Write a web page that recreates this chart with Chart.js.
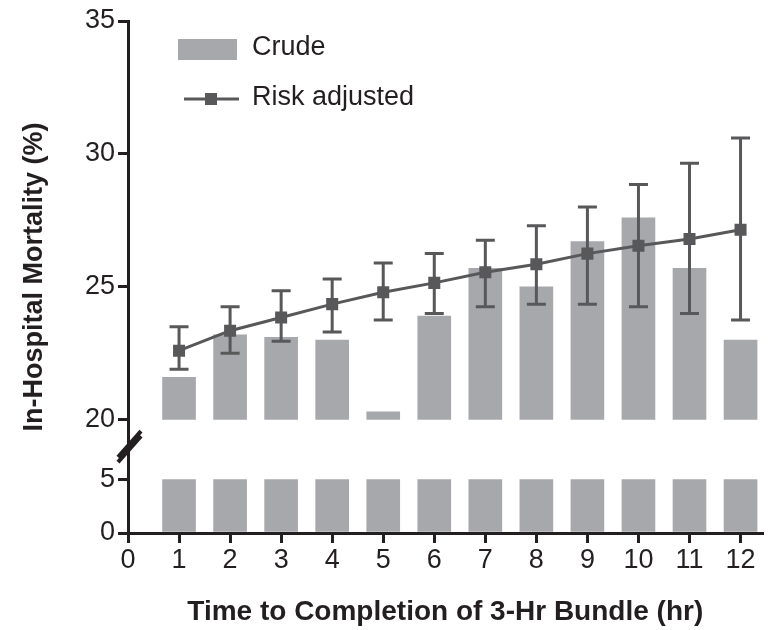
<!DOCTYPE html>
<html><head><meta charset="utf-8">
<script src="https://cdn.jsdelivr.net/npm/chart.js@4.4.1/dist/chart.umd.min.js"></script>
<style>html,body{margin:0;padding:0;background:#fff}#wrap{position:relative;width:771px;height:630px}</style>
</head><body><div id="wrap"><canvas id="c" width="771" height="630"></canvas></div>
<script>
// ---- data ----
const hours = [1, 2, 3, 4, 5, 6, 7, 8, 9, 10, 11, 12];
const crude = [21.6, 23.2, 23.1, 23.0, 20.3, 23.9, 25.7, 25.0, 26.7, 27.6, 25.7, 23.0];
const riskAdjusted = [22.6, 23.35, 23.85, 24.35, 24.8, 25.15, 25.55, 25.85, 26.25, 26.55, 26.8, 27.15];
const riskLower = [21.9, 22.5, 22.95, 23.3, 23.75, 24.0, 24.25, 24.35, 24.35, 24.25, 24.0, 23.75];
const riskUpper = [23.5, 24.25, 24.85, 25.3, 25.9, 26.25, 26.75, 27.3, 28.0, 28.85, 29.65, 30.6];
const xTicks = [0, 1, 2, 3, 4, 5, 6, 7, 8, 9, 10, 11, 12];
const yUpperTicks = [20, 25, 30, 35];
const yLowerTicks = [0, 5];
const breakLow = 5;
const breakHigh = 20;
const legendLabels = ['Crude', 'Risk adjusted'];
const xTitle = 'Time to Completion of 3-Hr Bundle (hr)';
const yTitle = 'In-Hospital Mortality (%)';

// ---- styles ----
const AXIS = '#231f20', BAR = '#a7a8ab', LINE = '#58585a';
const FONT = "'Liberation Sans', Arial, sans-serif";
Chart.defaults.font.family = FONT;
Chart.defaults.color = AXIS;

const errorBars = {
  id: 'errorBars',
  afterDatasetsDraw(chart) {
    const { ctx, scales: { x, yHigh } } = chart;
    ctx.save();
    ctx.strokeStyle = LINE; ctx.lineWidth = 3;
    hours.forEach((h, i) => {
      const px = x.getPixelForValue(h);
      const t = yHigh.getPixelForValue(riskUpper[i]);
      const b = yHigh.getPixelForValue(riskLower[i]);
      ctx.beginPath();
      ctx.moveTo(px, t); ctx.lineTo(px, b);
      ctx.moveTo(px - 9.5, t); ctx.lineTo(px + 9.5, t);
      ctx.moveTo(px - 9.5, b); ctx.lineTo(px + 9.5, b);
      ctx.stroke();
    });
    ctx.restore();
  }
};

const axisBreak = {
  id: 'axisBreak',
  afterDraw(chart) {
    const { ctx, chartArea, scales: { yHigh, yLow } } = chart;
    const x0 = chartArea.left;
    const yMid = (yHigh.getPixelForValue(breakHigh) + yLow.getPixelForValue(breakLow)) / 2 - 3;
    ctx.save();
    ctx.strokeStyle = AXIS; ctx.lineWidth = 4;
    [-2.5, 2.5].forEach(d => {
      ctx.beginPath();
      ctx.moveTo(x0 - 10, yMid + 13 + d);
      ctx.lineTo(x0 + 13, yMid - 13 + d);
      ctx.stroke();
    });
    ctx.restore();
  }
};

const customLegend = {
  id: 'customLegend',
  afterDraw(chart) {
    const { ctx, chartArea } = chart;
    const lx = chartArea.left + 50, ty = chartArea.top;
    ctx.save();
    ctx.fillStyle = BAR;
    ctx.fillRect(lx, ty + 18, 59, 21);
    ctx.strokeStyle = LINE; ctx.lineWidth = 3;
    ctx.beginPath(); ctx.moveTo(lx + 6, ty + 78); ctx.lineTo(lx + 61, ty + 78); ctx.stroke();
    ctx.fillStyle = LINE;
    ctx.fillRect(lx + 27, ty + 72, 12, 12);
    ctx.fillStyle = AXIS;
    ctx.font = '27px ' + FONT;
    ctx.textBaseline = 'middle';
    ctx.fillText(legendLabels[0], lx + 74, ty + 27);
    ctx.fillText(legendLabels[1], lx + 74, ty + 77);
    ctx.restore();
  }
};

const yTitlePlugin = {
  id: 'yTitlePlugin',
  afterDraw(chart) {
    const { ctx, chartArea } = chart;
    ctx.save();
    ctx.translate(35, (chartArea.top + chartArea.bottom) / 2);
    ctx.rotate(-Math.PI / 2);
    ctx.font = 'bold 27px ' + FONT;
    ctx.fillStyle = AXIS;
    ctx.textAlign = 'center';
    ctx.textBaseline = 'middle';
    ctx.fillText(yTitle, 0, 0);
    ctx.restore();
  }
};

const axisCommon = {
  grid: { drawOnChartArea: false, color: AXIS, lineWidth: 3, tickLength: 10 },
  border: { color: AXIS, width: 3 },
};

new Chart(document.getElementById('c'), {
  type: 'bar',
  data: {
    datasets: [
      { type: 'line', label: legendLabels[1], yAxisID: 'yHigh', order: 1,
        data: hours.map((h, i) => ({ x: h, y: riskAdjusted[i] })),
        borderColor: LINE, borderWidth: 3, tension: 0,
        pointStyle: 'rect', pointRadius: 8.5, pointBackgroundColor: LINE, pointBorderWidth: 0 },
      { type: 'bar', label: legendLabels[0], yAxisID: 'yHigh', order: 2, grouped: false,
        data: hours.map((h, i) => ({ x: h, y: [breakHigh, crude[i]] })),
        backgroundColor: BAR, barThickness: 33 },
      { type: 'bar', label: legendLabels[0] + ' (lower)', yAxisID: 'yLow', order: 2, grouped: false,
        data: hours.map(h => ({ x: h, y: [0, breakLow] })),
        backgroundColor: BAR, barThickness: 33 }
    ]
  },
  options: {
    responsive: false, animation: false,
    layout: { padding: { top: 21, right: 1, bottom: 0, left: 0 } },
    plugins: { legend: { display: false }, tooltip: { enabled: false } },
    scales: {
      x: {
        type: 'linear', min: 0, max: 12.43, offset: false,
        afterBuildTicks: s => { s.ticks = xTicks.map(v => ({ value: v })); },
        grid: { ...axisCommon.grid, offset: false },
        border: axisCommon.border,
        ticks: { font: { size: 27 }, padding: 1, color: AXIS, maxRotation: 0, autoSkip: false },
        title: { display: true, text: xTitle, font: { size: 28, weight: 'bold' }, padding: { top: 0, bottom: 1 }, color: AXIS },
        afterFit: s => { s.height = 97; }
      },
      yLow: {
        type: 'linear', position: 'left', stack: 'y', stackWeight: 113, min: 0, max: 10.6,
        afterBuildTicks: s => { s.ticks = yLowerTicks.map(v => ({ value: v })); },
        grid: axisCommon.grid, border: axisCommon.border,
        ticks: { font: { size: 27 }, padding: 3, color: AXIS },
        afterFit: s => { s.width = 128; }
      },
      yHigh: {
        type: 'linear', position: 'left', stack: 'y', stackWeight: 398, min: 20, max: 35,
        afterBuildTicks: s => { s.ticks = yUpperTicks.map(v => ({ value: v })); },
        grid: axisCommon.grid, border: axisCommon.border,
        ticks: { font: { size: 27 }, padding: 3, color: AXIS },
        afterFit: s => { s.width = 128; }
      }
    }
  },
  plugins: [errorBars, axisBreak, customLegend, yTitlePlugin]
});
</script></body></html>
